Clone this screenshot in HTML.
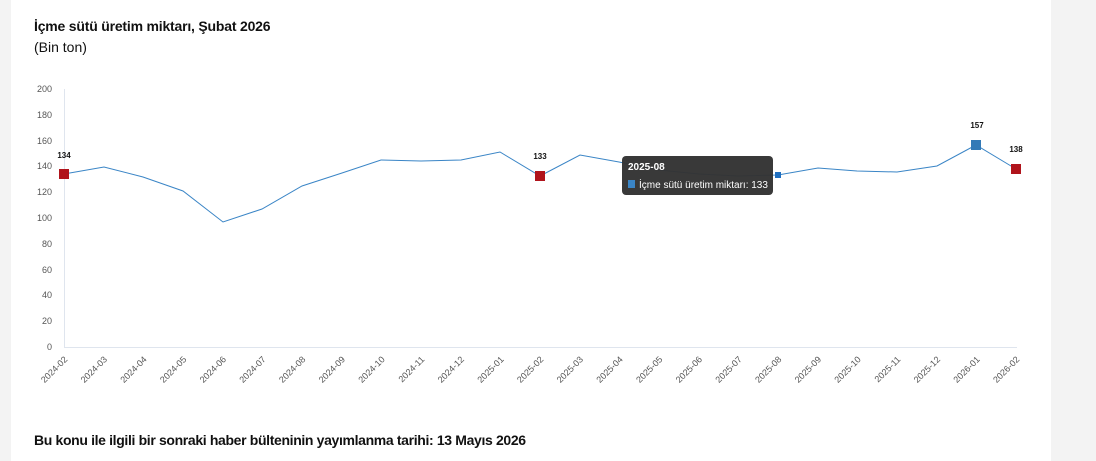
<!DOCTYPE html>
<html><head><meta charset="utf-8"><style>
html,body{margin:0;padding:0;width:1096px;height:461px;background:#f3f3f3;overflow:hidden;font-family:"Liberation Sans",sans-serif}
.card{position:absolute;left:11px;top:0;width:1040px;height:461px;background:#fff}
.t{position:absolute;left:34px;top:18px;font-size:14px;font-weight:bold;color:#111;letter-spacing:-0.2px}
.s{position:absolute;left:34px;top:39px;font-size:14px;color:#111}
.f{position:absolute;left:34px;top:432px;font-size:14px;font-weight:bold;color:#111;letter-spacing:-0.35px}
svg{position:absolute;left:0;top:0}
</style></head><body>
<div class="card"></div>
<div class="t">İçme sütü üretim miktarı, Şubat 2026</div>
<div class="s">(Bin ton)</div>
<svg width="1096" height="461" font-family="Liberation Sans, sans-serif">
<line x1="64.5" y1="89" x2="64.5" y2="347" stroke="#dfe5ee"/>
<line x1="64" y1="347.5" x2="1017" y2="347.5" stroke="#dfe5ee"/>
<g font-size="9" fill="#555" text-anchor="end">
<text x="52" y="350">0</text><text x="52" y="324">20</text><text x="52" y="298">40</text><text x="52" y="273">60</text><text x="52" y="247">80</text><text x="52" y="221">100</text><text x="52" y="195">120</text><text x="52" y="169">140</text><text x="52" y="144">160</text><text x="52" y="118">180</text><text x="52" y="92">200</text>
</g>
<g font-size="9" fill="#555" text-anchor="end" id="xl"></g>
<polyline fill="none" stroke="#3a85c6" stroke-width="1" points="64,174 104,167 143,177 183,191 223,222 262,209 302,186 342,173 381,160 421,161 461,160 500,152 540,176 580,155 619,162 659,170 699,174 738,176 778,175 818,168 857,171 897,172 937,166 976,145 1016,169"/>
<rect x="59" y="169" width="10" height="10" fill="#b0141c"/>
<rect x="535" y="171" width="10" height="10" fill="#b0141c"/>
<rect x="1011" y="164" width="10" height="10" fill="#b0141c"/>
<rect x="971" y="140" width="10" height="10" fill="#337ab7"/>
<rect x="775" y="172" width="6" height="6" fill="#1f6fc0"/>
<g font-size="8" font-weight="bold" fill="#111" text-anchor="middle">
<text x="64" y="158">134</text><text x="540" y="159">133</text><text x="977" y="128">157</text><text x="1016" y="152">138</text>
</g>
<rect x="622" y="156" width="151" height="39" rx="4" fill="#333" fill-opacity="0.97"/>
<text x="628" y="170" font-size="10" font-weight="bold" fill="#fff">2025-08</text>
<rect x="628" y="180" width="7" height="8" fill="#3a85c6"/>
<text x="639" y="188" font-size="10" fill="#fff">İçme sütü üretim miktarı: 133</text>
</svg>
<script>
var g=document.getElementById('xl'),s='';
var m=['2024-02','2024-03','2024-04','2024-05','2024-06','2024-07','2024-08','2024-09','2024-10','2024-11','2024-12','2025-01','2025-02','2025-03','2025-04','2025-05','2025-06','2025-07','2025-08','2025-09','2025-10','2025-11','2025-12','2026-01','2026-02'];
for(var i=0;i<m.length;i++){var x=64+i*39.67+4;s+='<text transform="translate('+x+',360) rotate(-45)">'+m[i]+'</text>';}
g.innerHTML=s;
</script>
<div class="f">Bu konu ile ilgili bir sonraki haber bülteninin yayımlanma tarihi: 13 Mayıs 2026</div>
</body></html>
